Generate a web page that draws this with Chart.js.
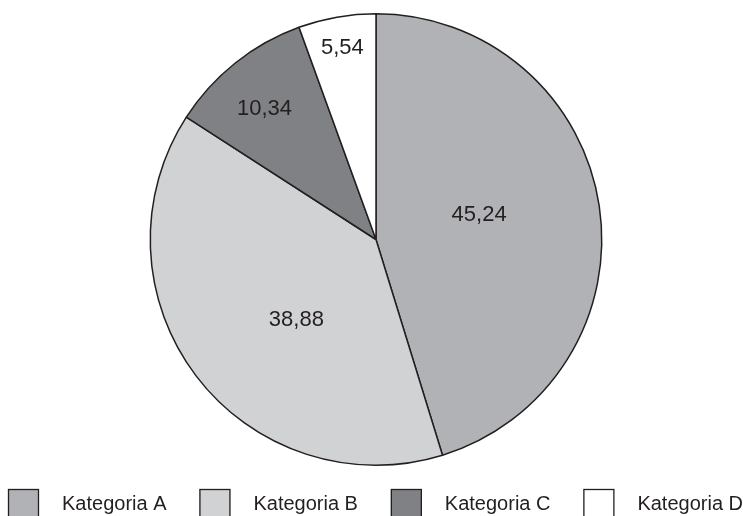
<!DOCTYPE html>
<html>
<head>
<meta charset="utf-8">
<script src="https://cdn.jsdelivr.net/npm/chart.js@4.4.0/dist/chart.umd.min.js"></script>
<style>
  html, body { margin: 0; padding: 0; background: #ffffff; }
  #wrap { width: 743px; height: 516px; position: relative; }
</style>
</head>
<body>
<div id="wrap"><canvas id="kuchen"></canvas></div>
<script>
// Daten
const kategorien = ['Kategoria A', 'Kategoria B', 'Kategoria C', 'Kategoria D'];
const werte = [45.24, 38.88, 10.34, 5.54];
const farben = ['#b1b2b5', '#d1d2d4', '#808184', '#ffffff'];

const linie = '#231f20';
const schrift = '"Liberation Sans", Arial, sans-serif';

// Position der Werte innerhalb der Segmente (Anteil am Radius, Winkelkorrektur in Grad)
const labelRadius = [0.47, 0.50, 0.76, 0.86];
const labelDreh = [-5, -8, -2, 0];

const formatZahl = v => v.toLocaleString('pl-PL', { minimumFractionDigits: 2, maximumFractionDigits: 2 });

const wertePlugin = {
    id: 'werte',
    afterDatasetsDraw(chart) {
        const ctx = chart.ctx;
        const meta = chart.getDatasetMeta(0);
        ctx.save();
        ctx.fillStyle = linie;
        ctx.font = '22px ' + schrift;
        ctx.textAlign = 'center';
        ctx.textBaseline = 'middle';
        meta.data.forEach((arc, i) => {
            const p = arc.getProps(['x', 'y', 'startAngle', 'endAngle', 'outerRadius'], true);
            const mitte = (p.startAngle + p.endAngle) / 2 + labelDreh[i] * Math.PI / 180;
            const r = p.outerRadius * labelRadius[i];
            ctx.fillText(formatZahl(werte[i]), p.x + Math.cos(mitte) * r, p.y + Math.sin(mitte) * r);
        });
        ctx.restore();
    }
};

// eigene Legende unten
const legendePlugin = {
    id: 'legende',
    afterDraw(chart) {
        const ctx = chart.ctx;
        const box = 31, boxH = 28, abstand = 23;
        const oben = 489;
        ctx.save();
        ctx.font = '20px ' + schrift;
        const breiten = kategorien.map(k => box + abstand + ctx.measureText(k).width);
        const summe = breiten.reduce((a, b) => a + b, 0);
        const links = 8;
        const luecke = (chart.width - links - summe) / (kategorien.length - 1);
        let x = links;
        kategorien.forEach((k, i) => {
            ctx.fillStyle = farben[i];
            ctx.fillRect(x, oben, box, boxH);
            ctx.strokeStyle = linie;
            ctx.lineWidth = 1.3;
            ctx.strokeRect(x + 0.5, oben + 0.5, box - 1, boxH);
            ctx.fillStyle = linie;
            ctx.textAlign = 'left';
            ctx.textBaseline = 'alphabetic';
            ctx.fillText(k, x + box + abstand, 510);
            x += breiten[i] + luecke;
        });
        ctx.restore();
    }
};

new Chart(document.getElementById('kuchen'), {
    type: 'pie',
    data: {
        labels: kategorien,
        datasets: [{
            data: werte,
            backgroundColor: farben,
            borderColor: linie,
            borderWidth: 1.5,
            borderAlign: 'center'
        }]
    },
    options: {
        responsive: true,
        maintainAspectRatio: false,
        animation: false,
        layout: { padding: { top: 13, bottom: 50, left: 9, right: 0 } },
        plugins: {
            legend: { display: false },
            tooltip: { enabled: false },
            title: { display: false }
        }
    },
    plugins: [wertePlugin, legendePlugin]
});
</script>
</body>
</html>
